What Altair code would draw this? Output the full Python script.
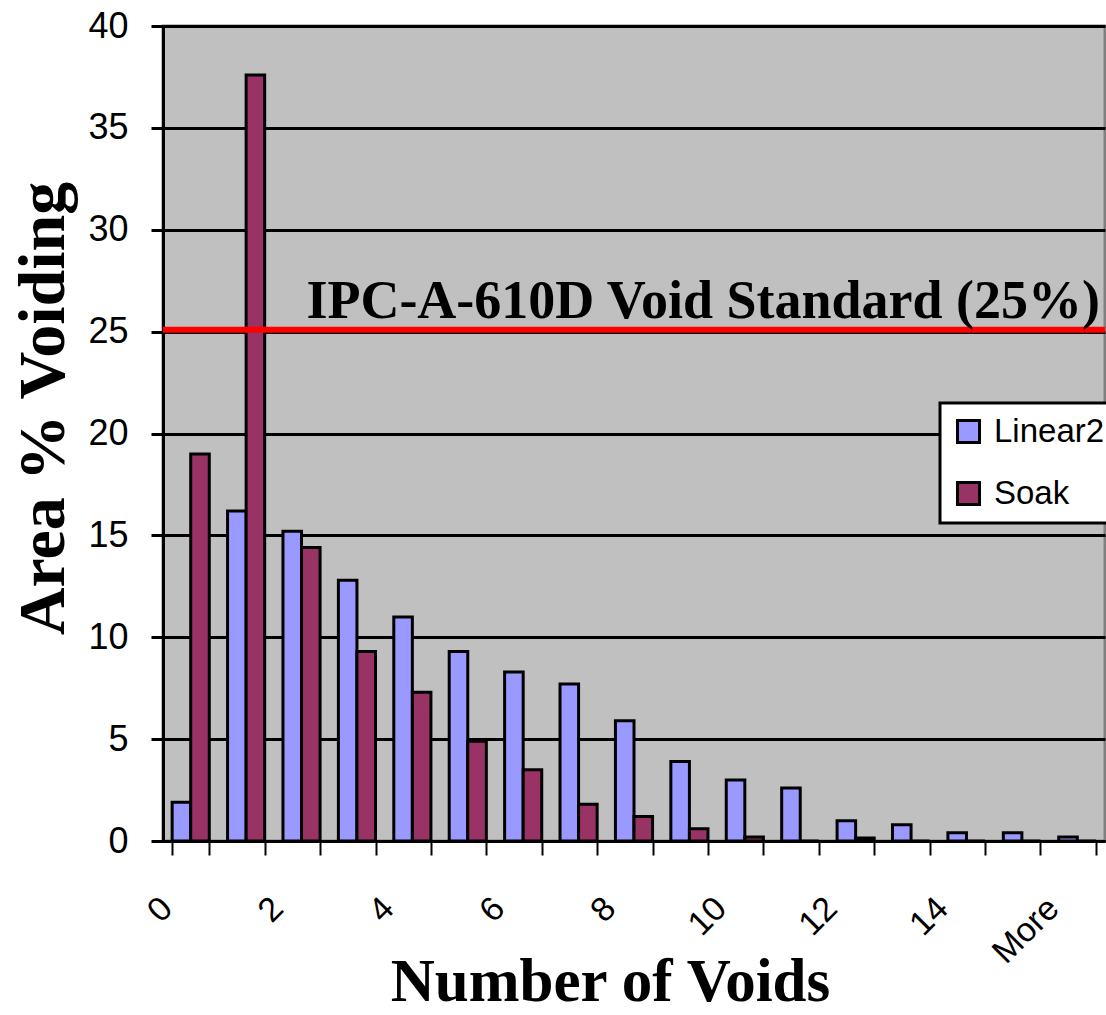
import json
import altair as alt
import pandas as pd

# ---- data ----
CATEGORIES = [str(i) for i in range(16)] + ["More"]
SHOWN_LABELS = ["0", "2", "4", "6", "8", "10", "12", "14", "More"]
LINEAR2 = [1.9, 16.2, 15.2, 12.8, 11.0, 9.3, 8.3, 7.7, 5.9, 3.9, 3.0, 2.6, 1.0, 0.8, 0.4, 0.4, 0.2]
SOAK = [19.0, 37.6, 14.4, 9.3, 7.3, 4.9, 3.5, 1.8, 1.2, 0.6, 0.2, 0.0, 0.15, 0.0, 0.0, 0.0, 0.0]
SERIES = ["Linear2", "Soak"]
COLORS = ["#9999FF", "#993366"]
STANDARD = [25]
STANDARD_TEXT = ["IPC-A-610D Void Standard (25%)"]
Y_TICKS = [0, 5, 10, 15, 20, 25, 30, 35, 40]

W, H = 942, 815

rows = []
for i, c in enumerate(CATEGORIES):
    rows.append({"voids": c, "series": SERIES[0], "pct": LINEAR2[i]})
    rows.append({"voids": c, "series": SERIES[1], "pct": SOAK[i]})
df = pd.DataFrame(rows)
std_df = pd.DataFrame({"y": STANDARD, "label": STANDARD_TEXT})

label_expr = "indexof(%s, datum.label) >= 0 ? datum.label : ''" % json.dumps(SHOWN_LABELS)

y_scale = alt.Scale(domain=[0, 40], nice=False)

bars = alt.Chart(df).mark_bar(stroke="black", strokeWidth=3).encode(
    x=alt.X(
        "voids:N",
        sort=CATEGORIES,
        scale=alt.Scale(paddingInner=0.33, paddingOuter=0.165),
        axis=alt.Axis(
            title="Number of Voids",
            titleFont="Liberation Serif",
            titleFontWeight="bold",
            titleFontSize=61,
            titleColor="black",
            titleX=447,
            titleY=159,
            titleBaseline="alphabetic",
            titleAlign="center",
            labelAngle=-45,
            labelAlign="right",
            labelBaseline="middle",
            labelOffset=-24,
            labelPadding=48,
            labelFont="Liberation Sans",
            labelFontSize=34,
            labelColor="black",
            labelExpr=label_expr,
            tickBand="extent",
            tickSize=14,
            tickWidth=2,
            tickColor="black",
            domainColor="black",
            domainWidth=3,
            grid=False,
        ),
    ),
    xOffset=alt.XOffset("series:N", sort=SERIES),
    y=alt.Y(
        "pct:Q",
        scale=y_scale,
        axis=alt.Axis(
            values=Y_TICKS,
            title="Area % Voiding",
            titleFont="Liberation Serif",
            titleFontWeight="bold",
            titleFontSize=66,
            titleColor="black",
            titleX=-100,
            titleY=382,
            titleBaseline="alphabetic",
            titleAlign="center",
            titleAngle=270,
            labelFont="Liberation Sans",
            labelFontSize=36,
            labelColor="black",
            labelPadding=23,
            tickSize=12,
            tickWidth=3,
            tickColor="black",
            domainColor="black",
            domainWidth=3,
            grid=True,
            gridColor="black",
            gridWidth=3,
        ),
    ),
    color=alt.Color(
        "series:N",
        sort=SERIES,
        scale=alt.Scale(domain=SERIES, range=COLORS),
        legend=alt.Legend(title=None, orient="none", legendX=777, legendY=377),
    ),
)

rule = alt.Chart(std_df).mark_rule(color="#FF0000", strokeWidth=6, yOffset=-2).encode(
    y=alt.Y("y:Q", scale=y_scale)
)

text = alt.Chart(std_df).mark_text(
    align="right",
    baseline="alphabetic",
    font="Liberation Serif",
    fontWeight="bold",
    fontSize=54,
    color="black",
    dy=-14,
).encode(
    x=alt.value(W - 5),
    y=alt.Y("y:Q", scale=y_scale),
    text="label:N",
)

chart = (
    alt.layer(bars, rule, text)
    .properties(
        width=W,
        height=H,
        padding={"left": 163, "top": 26, "right": 1, "bottom": 174},
        autosize=alt.AutoSizeParams(type="none"),
        background="white",
    )
    .configure_view(fill="#C0C0C0", stroke="#808080", strokeWidth=3)
    .configure_legend(
        fillColor="white",
        strokeColor="black",
        strokeWidth=3,
        padding=12,
        rowPadding=27,
        symbolType="square",
        symbolSize=484,
        symbolStrokeColor="black",
        symbolStrokeWidth=3,
        symbolOpacity=1,
        labelFont="Liberation Sans",
        labelFontSize=33,
        labelColor="black",
        labelOffset=9,
    )
)

chart.save("out.html", embed_options={"renderer": "svg", "actions": False})
